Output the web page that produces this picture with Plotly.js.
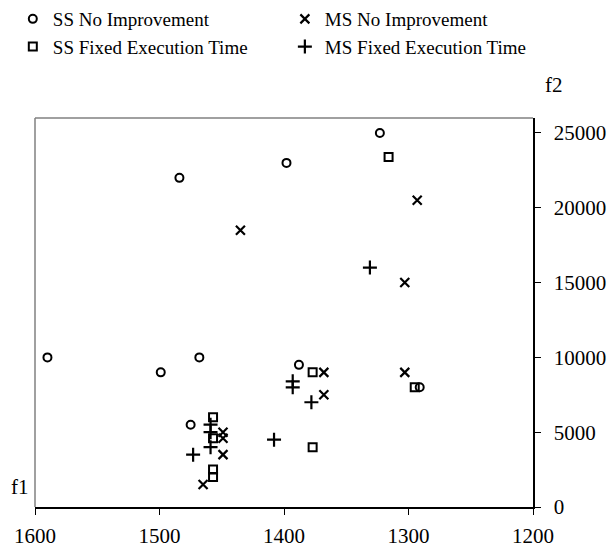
<!DOCTYPE html>
<html>
<head>
<meta charset="utf-8">
<script src="https://cdn.plot.ly/plotly-3.0.1.min.js"></script>
<style>html,body{margin:0;padding:0;background:#fff}#chart{width:610px;height:549px}</style>
</head>
<body>
<div id="chart"></div>
<script>
// SS No Improvement (circles)
const ssNoImpF1 = [1590, 1499, 1468, 1475, 1484, 1398, 1323, 1388, 1291];
const ssNoImpF2 = [10000, 9000, 10000, 5500, 22000, 23000, 25000, 9500, 8000];
// MS No Improvement (crosses)
const msNoImpF1 = [1449, 1449, 1449, 1465, 1435, 1293, 1303, 1303, 1368, 1368];
const msNoImpF2 = [5000, 4600, 3500, 1500, 18500, 20500, 15000, 9000, 9000, 7500];
// SS Fixed Execution Time (squares)
const ssFixF1 = [1457, 1457, 1457, 1457, 1316, 1377, 1377, 1295];
const ssFixF2 = [6000, 4600, 2500, 2000, 23400, 9000, 4000, 8000];
// MS Fixed Execution Time (plus)
const msFixF1 = [1459, 1459, 1459, 1473, 1408, 1393, 1393, 1378, 1331];
const msFixF2 = [5500, 5000, 4000, 3500, 4500, 8400, 8000, 7000, 16000];

const xTicks = [1600, 1500, 1400, 1300, 1200];
const yTicks = [0, 5000, 10000, 15000, 20000, 25000];

const font = 'Liberation Serif, Times New Roman, serif';
const black = '#000000';

function tr(name, x, y, symbol, size, lw, leg) {
  return {
    type: 'scatter', mode: 'markers', name: name, x: x, y: y, legend: leg,
    marker: {symbol: symbol, size: size, color: black, line: {color: black, width: lw}}
  };
}

const data = [
  tr('SS No Improvement', ssNoImpF1, ssNoImpF2, 'circle-open', 8, 2, 'legend'),
  tr('SS Fixed Execution Time', ssFixF1, ssFixF2, 'square-open', 8, 2, 'legend'),
  tr('MS No Improvement', msNoImpF1, msNoImpF2, 'x-thin-open', 9, 2.2, 'legend2'),
  tr('MS Fixed Execution Time', msFixF1, msFixF2, 'cross-thin-open', 10, 2.2, 'legend2')
];

const legFont = {family: font, size: 19, color: black};
const layout = {
  width: 610, height: 549,
  margin: {l: 35, r: 77, t: 118, b: 42, pad: 0, autoexpand: false},
  paper_bgcolor: '#ffffff', plot_bgcolor: '#ffffff',
  font: {family: font, size: 21, color: black},
  showlegend: true,
  legend: {
    orientation: 'v', xref: 'container', yref: 'container',
    x: 0.021, y: 1.0, xanchor: 'left', yanchor: 'top',
    itemwidth: 30, font: legFont, tracegroupgap: 0, bgcolor: 'rgba(0,0,0,0)', traceorder: 'normal'
  },
  legend2: {
    orientation: 'v', xref: 'container', yref: 'container',
    x: 0.467, y: 1.0, xanchor: 'left', yanchor: 'top',
    itemwidth: 30, font: legFont, tracegroupgap: 0, bgcolor: 'rgba(0,0,0,0)', traceorder: 'normal'
  },
  xaxis: {
    range: [1600, 1200], tickvals: xTicks, ticktext: xTicks.map(String),
    ticks: 'outside', ticklen: 6, tickwidth: 1, tickcolor: black,
    showline: true, linecolor: black, linewidth: 1.5,
    showgrid: false, zeroline: false, ticklabelstandoff: 3, automargin: false,
    tickfont: {family: font, size: 21, color: black}
  },
  yaxis: {
    side: 'right', range: [0, 26000], tickvals: yTicks, ticktext: yTicks.map(String),
    ticks: 'outside', ticklen: 6, tickwidth: 1, tickcolor: black,
    showline: true, linecolor: black, linewidth: 1.5,
    showgrid: false, zeroline: false, ticklabelstandoff: 9, automargin: false,
    tickfont: {family: font, size: 21, color: black}
  },
  shapes: [
    {type: 'line', xref: 'paper', yref: 'paper', x0: 0, x1: 1, y0: 1, y1: 1, line: {color: '#808080', width: 1.5}},
    {type: 'line', xref: 'paper', yref: 'paper', x0: 0, x1: 0, y0: 0, y1: 1, line: {color: '#808080', width: 1.5}}
  ],
  annotations: [
    {text: 'f2', xref: 'paper', yref: 'paper', x: 1.02, y: 1.0, yshift: 33, xanchor: 'left', yanchor: 'middle', showarrow: false, font: {family: font, size: 21, color: black}},
    {text: 'f1', xref: 'paper', yref: 'paper', x: 0, y: 0, xshift: -4, yshift: 20, xanchor: 'right', yanchor: 'middle', showarrow: false, font: {family: font, size: 21, color: black}}
  ]
};

Plotly.newPlot('chart', data, layout, {displayModeBar: false, staticPlot: true});
</script>
</body>
</html>
